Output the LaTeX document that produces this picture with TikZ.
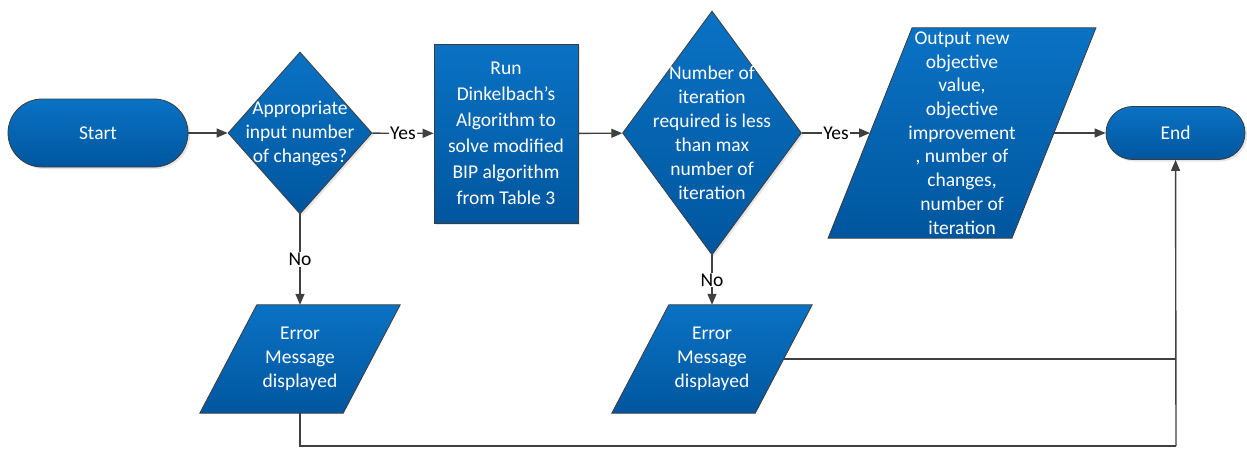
\documentclass[tikz,border=0pt]{standalone}
\usepackage{fontspec}
\setmainfont{Carlito}
\usetikzlibrary{shapes.geometric,arrows.meta,shadows,backgrounds}
\definecolor{fctop}{RGB}{10,114,196}
\definecolor{fcbot}{RGB}{0,86,158}
\definecolor{edgec}{RGB}{60,60,60}
\definecolor{lnc}{RGB}{64,64,64}
\newcommand{\drawpara}[2]{%
  \fill[black,opacity=0.2,xshift=2pt,yshift=-2pt] ([xshift=-#2]#1.south west) -- ([xshift=#2]#1.north west) -- ([xshift=#2]#1.north east) -- ([xshift=-#2]#1.south east) -- cycle;
  \path[draw=edgec, line width=0.8pt, top color=fctop, bottom color=fcbot] ([xshift=-#2]#1.south west) -- ([xshift=#2]#1.north west) -- ([xshift=#2]#1.north east) -- ([xshift=-#2]#1.south east) -- cycle;
}
\begin{document}
\begin{tikzpicture}[x=1pt,y=-1pt,
  shapebox/.style={draw=edgec, line width=0.8pt, top color=fctop, bottom color=fcbot, inner sep=0pt,
    drop shadow={opacity=0.2,shadow xshift=2pt,shadow yshift=-2pt}},
  txt/.style={text=white, align=center, font=\fontsize{19.5}{24}\selectfont, inner sep=0pt},
  para/.style={rectangle, inner sep=0pt},
  conn/.style={draw=lnc, line width=1.4pt, -{Triangle[length=11pt,width=9pt]}},
  plain/.style={draw=lnc, line width=1.4pt},
  lbl/.style={fill=white, text=black, inner sep=1pt, font=\fontsize{19.5}{24}\selectfont}
]
\useasboundingbox (0,0) rectangle (1247,448);

\node[shapebox, txt, rounded corners=34pt, minimum width=180pt, minimum height=68pt] (start) at (98,133) {Start};

\node[shapebox, diamond, minimum width=144pt, minimum height=162pt,
  label={[txt]center:{Appropriate\\input number\\of changes?}}] (d1) at (300,133) {};

\node[shapebox, txt, font=\fontsize{19.5}{26}\selectfont, minimum width=144pt, minimum height=179pt] (alg) at (506,133.5)
  {Run\\Dinkelbach’s\\Algorithm to\\solve modified\\BIP algorithm\\from Table 3};

\node[shapebox, diamond, minimum width=179pt, minimum height=244pt,
  label={[txt]center:{Number of\\iteration\\required is less\\than max\\number of\\iteration}}] (d2) at (712,133) {};

\node[para, minimum width=183.5pt, minimum height=210pt,
  label={[txt, font=\fontsize{19.5}{23.7}\selectfont]center:{Output new\\objective\\value,\\objective\\improvement\\, number of\\changes,\\number of\\iteration}}] (p1) at (962,133) {};

\node[shapebox, txt, rounded corners=26.5pt, minimum width=139pt, minimum height=53pt] (end) at (1175.5,133) {End};

\node[para, minimum width=143pt, minimum height=108pt,
  label={[txt]center:{Error\\Message\\displayed}}] (e1) at (300,359) {};

\node[para, minimum width=143pt, minimum height=108pt,
  label={[txt]center:{Error\\Message\\displayed}}] (e2) at (712,359) {};

\begin{scope}[on background layer]
  \drawpara{p1}{42pt}
  \drawpara{e1}{28.5pt}
  \drawpara{e2}{28.5pt}
\end{scope}

\coordinate (j) at (1176,446);

\draw[conn] (start) -- (d1);
\draw[conn] (d1) -- node[lbl]{Yes} (alg);
\draw[conn] (alg) -- (d2);
\draw[conn] (d2) -- node[lbl]{Yes} (p1);
\draw[conn] (p1) -- (end);
\draw[conn] (d1) -- node[lbl]{No} (e1);
\draw[conn] (d2) -- node[lbl]{No} (e2);
\draw[plain] (e1.south) |- (j);
\draw[plain] (e2.east) -- (e2.east -| j);
\draw[conn] (j) -- (end);
\end{tikzpicture}
\end{document}
